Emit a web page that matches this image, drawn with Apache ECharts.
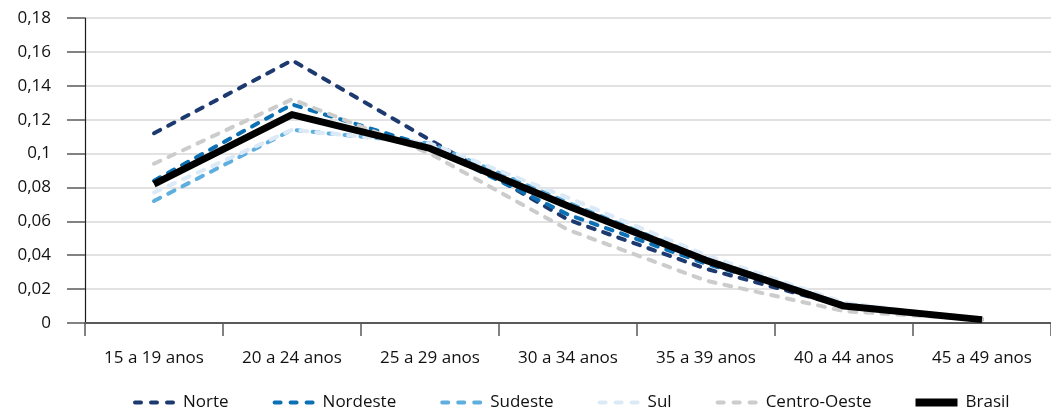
<!DOCTYPE html>
<html>
<head>
<meta charset="utf-8">
<script src="https://cdn.jsdelivr.net/npm/echarts@6/dist/echarts.min.js"></script>
<style>html,body{margin:0;padding:0;background:#fff}#c{width:1051px;height:407px}</style>
</head>
<body>
<div id="c"></div>
<script>
const categories = ['15 a 19 anos','20 a 24 anos','25 a 29 anos','30 a 34 anos','35 a 39 anos','40 a 44 anos','45 a 49 anos'];
const norte       = [0.112, 0.155, 0.108, 0.061, 0.032, 0.010, 0.002];
const nordeste    = [0.084, 0.129, 0.104, 0.064, 0.035, 0.011, 0.002];
const sudeste     = [0.072, 0.114, 0.106, 0.071, 0.038, 0.011, 0.002];
const sul         = [0.077, 0.114, 0.106, 0.074, 0.040, 0.012, 0.002];
const centroOeste = [0.094, 0.132, 0.100, 0.055, 0.025, 0.007, 0.002];
const brasil      = [0.082, 0.123, 0.103, 0.069, 0.037, 0.010, 0.002];
const yTicks = [0, 0.02, 0.04, 0.06, 0.08, 0.1, 0.12, 0.14, 0.16, 0.18];

const FONT = 'Open Sans';
const DOTS = 'path://M2,0h6a2,2 0 0 1 0,4h-6a2,2 0 0 1 0,-4z M18,0h6a2,2 0 0 1 0,4h-6a2,2 0 0 1 0,-4z M34,0h6a2,2 0 0 1 0,4h-6a2,2 0 0 1 0,-4z';
const chart = echarts.init(document.getElementById('c'), null, {renderer: 'canvas'});
function dashed(name, data, color) {
  return {
    name, type: 'line', data, symbol: 'none', smooth: false, z: 2,
    lineStyle: {color, width: 4, type: [7, 9], cap: 'round'},
    itemStyle: {color}
  };
}
chart.setOption({
  animation: false,
  textStyle: {fontFamily: FONT},
  grid: {left: 85, top: 18, height: 305, width: 974},
  xAxis: {
    type: 'category', data: categories, boundaryGap: true,
    axisLine: {lineStyle: {color: '#595959', width: 2}},
    axisTick: {show: true, length: 13, lineStyle: {color: '#595959', width: 1.5}},
    axisLabel: {color: '#111', fontSize: 17, margin: 27, fontFamily: FONT, interval: 0}
  },
  yAxis: {
    type: 'value', min: 0, max: 0.18, interval: 0.02,
    axisLine: {show: true, lineStyle: {color: '#1a1a1a', width: 1.2}},
    axisTick: {show: true, length: 18, lineStyle: {color: '#595959', width: 1.5}},
    splitLine: {lineStyle: {color: '#d9d9d9', width: 1.5}},
    axisLabel: {
      color: '#111', fontSize: 17, margin: 34, fontFamily: FONT,
      formatter: v => {
        const t = yTicks.find(x => Math.abs(x - v) < 1e-9);
        return String(+((t !== undefined ? t : v).toFixed(2))).replace('.', ',');
      }
    }
  },
  legend: {
    top: 389, left: 128, itemWidth: 42, itemHeight: 8, itemGap: 44,
    textStyle: {color: '#111', fontSize: 17, fontFamily: FONT, padding: [0,0,0,3]},
    data: [
      {name: 'Norte', icon: DOTS},
      {name: 'Nordeste', icon: DOTS},
      {name: 'Sudeste', icon: DOTS},
      {name: 'Sul', icon: DOTS},
      {name: 'Centro-Oeste', icon: DOTS},
      {name: 'Brasil', icon: 'rect'}
    ]
  },
  series: [
    dashed('Norte', norte, '#1d3a70'),
    dashed('Nordeste', nordeste, '#0b71b4'),
    dashed('Sudeste', sudeste, '#5eafe0'),
    dashed('Sul', sul, '#dce9f6'),
    dashed('Centro-Oeste', centroOeste, '#cccccc'),
    {name: 'Brasil', type: 'line', data: brasil, symbol: 'none', z: 3,
     lineStyle: {color: '#000', width: 7, join: 'round'}, itemStyle: {color: '#000'}}
  ]
});
</script>
</body>
</html>
